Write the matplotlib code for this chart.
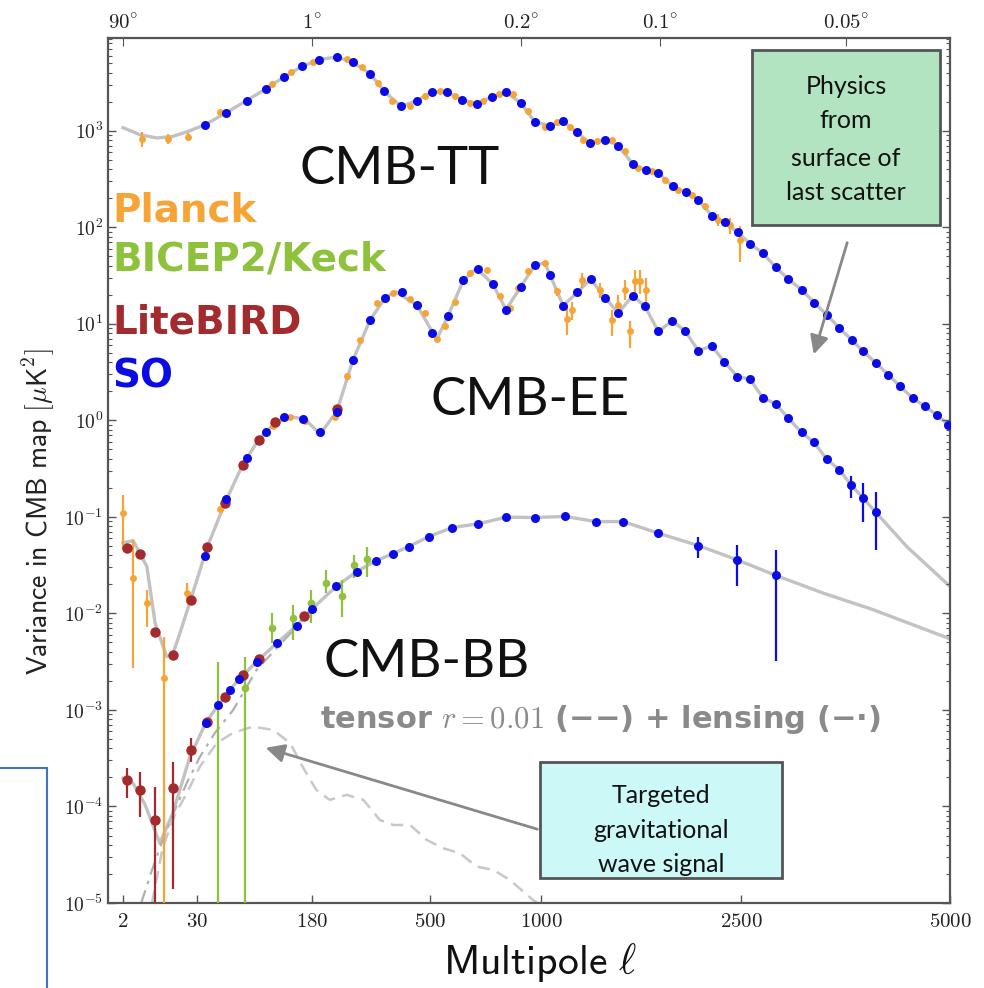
import numpy as np
import matplotlib
matplotlib.use("Agg")
import matplotlib.pyplot as plt
from matplotlib.ticker import FixedLocator, NullLocator, LogLocator, NullFormatter
from matplotlib.patches import Rectangle, FancyArrowPatch
from matplotlib.lines import Line2D

plt.rcParams["mathtext.fontset"] = "cm"

# ---------------- data (ell, D_ell in uK^2) ----------------
TT_LOW_ELL = [2, 3.7, 6.9, 12.4, 21.8]
TT_LOW = [1074, 910, 840, 873, 984]

SO_TT_ELL = [34, 47, 65, 88, 117, 154, 192, 223, 257, 298, 337, 389, 446, 506, 559,
             616, 676, 745, 817, 898, 969, 1045, 1116, 1193, 1274, 1372, 1465, 1573,
             1680, 1785, 1895, 2000, 2103, 2220, 2343, 2467, 2579, 2696, 2823, 2946,
             3087, 3222, 3367, 3518, 3665, 3802, 3958, 4115, 4271, 4445, 4620, 4794, 4974]
SO_TT = [1153, 1525, 2047, 2723, 3605, 4634, 5445, 5808, 5105, 3873, 2553, 1786, 2047,
         2517, 2495, 2094, 1892, 2233, 2517, 1936, 1230, 1128, 1247, 960, 745, 807, 699,
         455, 388, 365, 265, 230, 193, 132, 112, 88.4, 67.5, 54, 38.3, 29.0, 22.5, 16.6,
         12.4, 9.02, 6.82, 5.16, 3.92, 2.96, 2.24, 1.70, 1.39, 1.14, 0.90]

PLANCK_TT_ELL = [4.0, 10.5, 21.8, 43, 96, 130, 181, 243, 277, 320, 359, 421, 479, 533,
                 588, 648, 706, 782, 856, 935, 1020, 1081, 1154, 1232, 1317, 1418, 1514,
                 1617, 1728, 1837, 1940, 2048, 2161, 2280, 2391, 2490]
PLANCK_TT = [826, 826, 861, 1549, 3049, 4017, 5188, 5530, 4530, 3119, 2014, 1815, 2306,
             2600, 2306, 1936, 2014, 2417, 2400, 1585, 1092, 1219, 1092, 807, 774, 807,
             611, 411, 379, 311, 245, 217, 164, 120, 106, 74]
PLANCK_TT_ERR = [150, 100, 80] + [0] * 28 + [10, 15, 18, 20, 30]

SO_EE_ELL = [34, 47, 65, 88, 117, 156, 193, 223, 257, 298, 339, 392, 446, 508, 561, 620,
             681, 750, 817, 898, 969, 1045, 1116, 1196, 1278, 1372, 1465, 1573, 1672,
             1785, 1892, 1992, 2103, 2220, 2334, 2463, 2579, 2696, 2823, 2946, 3087,
             3222, 3367, 3518, 3657, 3802, 3958]
SO_EE = [0.0394, 0.152, 0.405, 0.765, 1.07, 1.03, 0.748, 1.23, 4.24, 11.0, 18.5, 21.3,
         15.7, 8.02, 11.9, 28.1, 37.2, 25.8, 14.0, 24.0, 40.8, 32.2, 15.4, 21.1, 29.0,
         18.7, 12.9, 19.6, 15.1, 8.32, 10.7, 8.45, 5.25, 5.91, 4.06, 2.84, 2.67, 1.72,
         1.47, 1.05, 0.748, 0.589, 0.396, 0.307, 0.215, 0.156, 0.111]
SO_EE_LO = [0] * 44 + [0.059, 0.067, 0.0655]
SO_EE_UP = [0] * 44 + [0.047, 0.069, 0.072]

PLANCK_EE_ELL = [2, 2.85, 4.76, 9.07, 20.6, 42.9, 98, 128, 161, 220, 244, 273, 315, 364,
                 421, 479, 522, 551, 588, 648, 721, 786, 838, 885, 935, 1020, 1081, 1135,
                 1164, 1223, 1338, 1418, 1465, 1514, 1552, 1591, 1630, 1680]
PLANCK_EE = [0.109, 0.0232, 0.0129, 0.00213, 0.0164, 0.120, 0.863, 1.09, 0.972, 1.09,
             2.89, 6.71, 16.6, 20.8, 18.0, 12.9, 6.93, 9.53, 17.0, 33.5, 36.3, 19.2, 14.6,
             23.4, 34.9, 42.5, 21.6, 11.2, 14.0, 28.6, 22.5, 11.0, 15.7, 22.5, 8.32, 27.4,
             27.4, 22.5]
PLANCK_EE_LO = [0.0635, 0.0205, 0.0056, 0.002129, 0.0036] + [0] * 21 + \
               [2, 3.5, 3, 5, 4, 3.6, 4, 5, 2.7, 7, 7, 6]
PLANCK_EE_UP = [0.06, 0.0346, 0.0046, 0.00362, 0.0041] + [0] * 21 + \
               [2, 4, 3, 5, 4, 3.0, 4, 6, 2.3, 9, 9, 7]

LITEBIRD_EE_ELL = [2.3, 3.7, 6.5, 12.3, 23.8, 35.2, 46.4, 61.1, 78.4, 102, 223]
LITEBIRD_EE = [0.0474, 0.0414, 0.00647, 0.00372, 0.0138, 0.0486, 0.139, 0.346, 0.628,
               0.949, 1.31]

EE_CURVE_ELL = [2, 2.9, 4.8, 6.5, 9.9, 12.3, 16.1, 23.8, 35.2, 46.4, 61.1, 78.4, 102, 128,
                161, 193, 223, 257, 298, 339, 370, 446, 522, 561, 620, 676, 750, 817, 898,
                969, 1020, 1116, 1196, 1278, 1372, 1465, 1573, 1672, 1785, 1892, 1992,
                2103, 2220, 2334, 2463, 2579, 2696, 2823, 2946, 3087, 3222, 3367, 3518,
                3657, 3802, 3958, 4362, 4974]
EE_CURVE = [0.0538, 0.0568, 0.0305, 0.0079, 0.00357, 0.00372, 0.00624, 0.0138, 0.0486,
            0.139, 0.346, 0.628, 0.949, 1.09, 1.03, 0.72, 1.23, 4.24, 11.0, 18.5, 21.5,
            15.7, 6.9, 11.9, 28.1, 37.5, 25.8, 14.0, 24.0, 40.8, 42.5, 15.4, 21.1, 29.0,
            18.7, 12.9, 19.6, 15.1, 8.32, 10.7, 8.45, 5.25, 5.91, 4.06, 2.84, 2.67, 1.72,
            1.47, 1.05, 0.748, 0.589, 0.396, 0.307, 0.215, 0.156, 0.111, 0.0492, 0.0197]

SO_BB_ELL = [34.5, 41.8, 49.9, 58, 76, 105, 142, 180, 222, 265, 313, 362, 416, 496, 578,
             683, 817, 969, 1126, 1312, 1501, 1785, 2103, 2463, 2823]
SO_BB = [7.38e-4, 1.13e-3, 1.61e-3, 2.08e-3, 3.16e-3, 4.98e-3, 7.47e-3, 0.0111, 0.0190,
         0.0271, 0.0350, 0.0414, 0.0492, 0.0625, 0.0775, 0.0846, 0.0993, 0.0984, 0.101,
         0.0893, 0.0893, 0.0677, 0.0504, 0.0358, 0.0247]
SO_BB_LO = [0] * 22 + [0.0132, 0.0168, 0.0215]
SO_BB_UP = [0] * 22 + [0.0120, 0.0155, 0.0208]

LITEBIRD_BB_ELL = [2.3, 3.7, 6.5, 12.3, 23.8, 35.2, 46.4, 61.7, 79.1, 159]
LITEBIRD_BB = [1.88e-4, 1.48e-4, 7.24e-5, 1.54e-4, 3.85e-4, 7.57e-4, 1.37e-3, 2.31e-3,
               3.35e-3, 9.48e-3]
LITEBIRD_BB_LO = [0.66e-4, 0.70e-4, 7.2e-5, 1.40e-4, 0.94e-4, 0, 0, 0, 0, 0]
LITEBIRD_BB_UP = [0.63e-4, 0.82e-4, 0.88e-4, 1.36e-4, 1.28e-4, 0, 0, 0, 0, 0]

BICEP_BB_ELL = [41.8, 63.3, 96, 133, 176, 204, 233, 259, 289]
BICEP_BB = [5e-6, 1.68e-3, 7.03e-3, 8.91e-3, 0.0128, 0.0208, 0.0152, 0.0318, 0.0365]
BICEP_BB_LO = [0, 1.679e-3, 2.09e-3, 3.6e-3, 4.82e-3, 4.7e-3, 5.93e-3, 8.5e-3, 0.0125]
BICEP_BB_UP = [3.155e-3, 1.86e-3, 3.07e-3, 3.29e-3, 4.7e-3, 7.1e-3, 7.0e-3, 8.6e-3, 0.0127]

BB_CURVE_ELL = [2, 2.9, 4.5, 7.7, 12.4, 23.2, 34.5, 41.8, 49.9, 58, 76, 105, 142, 180,
                222, 265, 313, 362, 416, 496, 578, 683, 817, 969, 1126, 1312, 1501, 1785,
                2103, 2463, 2823, 3328, 3925, 4974]
BB_CURVE = [1.96e-4, 1.74e-4, 1.04e-4, 4.16e-5, 8.51e-5, 3.28e-4, 7.38e-4, 1.13e-3,
            1.61e-3, 2.08e-3, 3.16e-3, 4.98e-3, 7.47e-3, 0.0111, 0.0190, 0.0271, 0.0350,
            0.0414, 0.0492, 0.0625, 0.0775, 0.0846, 0.0993, 0.0984, 0.101, 0.0893, 0.0893,
            0.0677, 0.0504, 0.0358, 0.0247, 0.0162, 0.0109, 0.00553]

LENSING_ELL = [3.9, 5.8, 8.6, 13.4, 20.6, 31.4, 39.7, 52.8, 76, 109, 142, 180]
LENSING = [1e-5, 2.2e-5, 4.5e-5, 9.2e-5, 1.74e-4, 3.26e-4, 5.78e-4, 1.0e-3, 2.6e-3,
           4.72e-3, 7.3e-3, 0.011]

TENSOR_ELL = [5.8, 8.6, 13.4, 20.6, 31.4, 40.8, 52.5, 71.7, 98, 128, 156, 187, 210, 243,
              281, 324, 364, 421, 486, 545, 607, 676, 753, 838, 960, 1000]
TENSOR = [1e-5, 3.8e-5, 8.17e-5, 1.37e-4, 2.58e-4, 4.52e-4, 5.78e-4, 6.71e-4, 6.21e-4,
          4.55e-4, 2.56e-4, 1.48e-4, 1.17e-4, 1.32e-4, 1.17e-4, 7.24e-5, 6.43e-5, 6.43e-5,
          4.5e-5, 3.69e-5, 3.27e-5, 2.38e-5, 2.2e-5, 1.73e-5, 1.07e-5, 9.5e-6]

BOTTOM_TICKS = [2, 30, 180, 500, 1000, 2500, 5000]
TOP_TICKS = [2, 180, 900, 1800, 3600]
TOP_LABELS = ["90", "1", "0.2", "0.1", "0.05"]

# warped multipole axis: tick multipoles and where they sit across the frame
SCALE_ELL = [0.01, 1, 2, 30, 180, 500, 900, 1000, 1800, 2500, 3600, 5000, 1e5]
SCALE_POS = [-22, 104, 123, 197, 312, 430, 521, 541, 660, 741, 846, 950, 1898]

ORANGE = "#f7a436"
GREEN = "#8fc23c"
RED = "#a32a2d"
BLUE = "#0b0be6"
CURVE = "#c2c2c2"
W, H = 984, 988


def fwd(x):
    return np.interp(np.log10(np.clip(x, 1e-6, None)), np.log10(SCALE_ELL), SCALE_POS)


def inv(p):
    return 10 ** np.interp(p, SCALE_POS, np.log10(SCALE_ELL))


def fxy(x, y):
    return x / W, 1 - y / H


def points(ax, ell, d, color, size, z, lo=None, up=None):
    yerr = None if lo is None else [lo, up]
    ax.errorbar(ell, d, yerr=yerr, fmt="o", color=color, ms=size, mew=0,
                elinewidth=1.6, capsize=0, zorder=z)


fig = plt.figure(figsize=(W / 100, H / 100), dpi=100)
ax = fig.add_axes([108 / W, 85 / H, 842 / W, 865 / H])
ax.set_xscale("function", functions=(fwd, inv))
ax.set_yscale("log")

# theory curves
ax.plot(TT_LOW_ELL + SO_TT_ELL, TT_LOW + SO_TT, color=CURVE, lw=2.4, zorder=1)
ax.plot(EE_CURVE_ELL, EE_CURVE, color=CURVE, lw=2.4, zorder=1)
ax.plot(BB_CURVE_ELL, BB_CURVE, color=CURVE, lw=2.4, zorder=1)
ax.plot(LENSING_ELL, LENSING, color="#b0b0b0", lw=1.6, ls=(0, (6, 3, 1.5, 3)), zorder=1)
ax.plot(TENSOR_ELL, TENSOR, color="#c8c8c8", lw=1.8, ls=(0, (5, 3)), zorder=1)

# experiments
points(ax, PLANCK_TT_ELL, PLANCK_TT, ORANGE, 5, 3, PLANCK_TT_ERR, PLANCK_TT_ERR)
points(ax, PLANCK_EE_ELL, PLANCK_EE, ORANGE, 5, 3, PLANCK_EE_LO, PLANCK_EE_UP)
points(ax, BICEP_BB_ELL, BICEP_BB, GREEN, 5.5, 3, BICEP_BB_LO, BICEP_BB_UP)
points(ax, LITEBIRD_EE_ELL, LITEBIRD_EE, RED, 7.5, 4)
points(ax, LITEBIRD_BB_ELL, LITEBIRD_BB, RED, 7.5, 4, LITEBIRD_BB_LO, LITEBIRD_BB_UP)
points(ax, SO_TT_ELL, SO_TT, BLUE, 6.5, 5)
points(ax, SO_EE_ELL, SO_EE, BLUE, 6.5, 5, SO_EE_LO, SO_EE_UP)
points(ax, SO_BB_ELL, SO_BB, BLUE, 6.5, 5, SO_BB_LO, SO_BB_UP)

ax.set_xlim(1.16, 5000)
ax.set_ylim(1e-5, 10 ** 3.96)

# axes decoration
for s in ax.spines.values():
    s.set_color("#555555")
    s.set_linewidth(1.6)
ax.xaxis.set_major_locator(FixedLocator(BOTTOM_TICKS))
ax.xaxis.set_minor_locator(NullLocator())
ax.set_xticklabels([r"$\mathsf{%d}$" % t for t in BOTTOM_TICKS], fontsize=15)
ax.yaxis.set_major_locator(FixedLocator([10.0 ** k for k in range(-5, 4)]))
ax.set_yticklabels([r"$\mathbf{10^{%d}}$" % k for k in range(-5, 4)], fontsize=14)
ax.yaxis.set_minor_locator(LogLocator(base=10, subs=np.arange(2, 10), numticks=20))
ax.yaxis.set_minor_formatter(NullFormatter())
ax.tick_params(which="both", direction="in", right=True, colors="#555555",
               labelcolor="#222222")
ax.tick_params(which="major", length=6, width=1)
ax.tick_params(which="minor", length=3, width=0.8)
ax.tick_params(axis="x", pad=6)

top = ax.twiny()
top.set_xscale("function", functions=(fwd, inv))
top.set_xlim(ax.get_xlim())
top.xaxis.set_major_locator(FixedLocator(TOP_TICKS))
top.xaxis.set_minor_locator(NullLocator())
top.set_xticklabels([r"$\mathsf{%s^{\circ}}$" % t for t in TOP_LABELS], fontsize=15)
top.tick_params(direction="in", length=6, colors="#555555", labelcolor="#222222", pad=4)
for s in top.spines.values():
    s.set_visible(False)

fig.text(*fxy(38, 512), r"$\mathsf{Variance\ in\ CMB\ map\ [\mu K^2]}$", rotation=90,
         ha="center", va="center", fontsize=20, color="#222222")
fig.text(*fxy(540, 962), r"$\mathsf{Multipole}\ \ell$", ha="center", va="center",
         fontsize=30, color="#111111")

# curve names
for label, x, y in [("CMB-TT", 400, 170), ("CMB-EE", 530, 400), ("CMB-BB", 427, 662)]:
    fig.text(*fxy(x, y), label, ha="center", va="center", fontsize=38,
             family="Lato", weight="normal", color="#111111")

# experiment legend
for label, color, y in [("Planck", ORANGE, 210), ("BICEP2/Keck", GREEN, 259),
                        ("LiteBIRD", RED, 322), ("SO", BLUE, 376)]:
    fig.text(*fxy(112, y), label, ha="left", va="center", fontsize=28,
             family="DejaVu Sans", weight="bold", color=color)

fig.text(*fxy(320, 720), r"tensor $r = \mathsf{0.01}$ (−−) + lensing (−·)", ha="left",
         va="center", fontsize=22, weight="bold", color="#8a8a8a")

# annotation boxes
green_box = Rectangle(fxy(752, 225), 188 / W, 175 / H, transform=fig.transFigure,
                      facecolor="#b3e4c2", edgecolor="#555555", lw=2, zorder=5)
fig.add_artist(green_box)
for line, y in zip(["Physics", "from", "surface of", "last scatter"], [86, 121, 158, 193]):
    fig.text(*fxy(846, y), line, ha="center", va="center", fontsize=18, family="Lato",
             color="#111111", zorder=6)

cyan_box = Rectangle(fxy(540, 878), 242 / W, 116 / H, transform=fig.transFigure,
                     facecolor="#cdf8f8", edgecolor="#555555", lw=2, zorder=5)
fig.add_artist(cyan_box)
for line, y in zip(["Targeted", "gravitational", "wave signal"], [795, 830, 864]):
    fig.text(*fxy(661, y), line, ha="center", va="center", fontsize=18, family="Lato",
             color="#111111", zorder=6)

for start, end in [((848, 240), (813, 357)), ((540, 830), (263, 747))]:
    fig.add_artist(FancyArrowPatch(fxy(*start), fxy(*end), transform=fig.transFigure,
                                   arrowstyle="-|>", mutation_scale=28, color="#888888",
                                   lw=2, zorder=5))

# stray frame lines at bottom left of the source image
fig.add_artist(Line2D([47 / W, 47 / W], [0, 1 - 768 / H], transform=fig.transFigure,
                      color="#4472c4", lw=1.5))
fig.add_artist(Line2D([0, 47 / W], [1 - 768 / H, 1 - 768 / H], transform=fig.transFigure,
                      color="#4472c4", lw=1.5))

fig.savefig("out.png", dpi=100)
